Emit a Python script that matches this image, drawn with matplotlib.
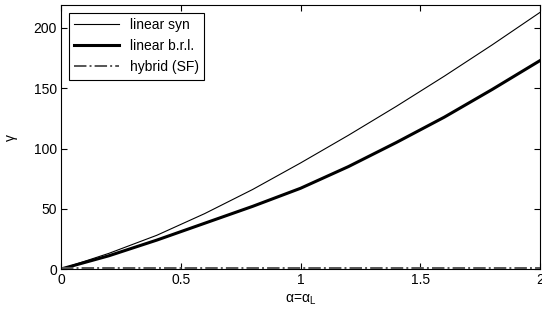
import matplotlib.pyplot as plt

plt.rcParams['font.family'] = ['Liberation Sans', 'DejaVu Sans']

# Data.
alpha = [0, 0.2, 0.4, 0.6, 0.8, 1.0, 1.2, 1.4, 1.6, 1.8, 2.0]
linear_syn = [0, 13, 28, 46, 66, 88, 111, 135, 160, 186, 213]
linear_brl = [0, 11, 24, 38, 52, 67, 85, 105, 126, 149, 173]
hybrid_sf = [0.8, 0.8, 0.8, 0.8, 0.8, 0.8, 0.8, 0.8, 0.8, 0.8, 0.8]

fig = plt.figure(figsize=(5.42, 3.18), dpi=100)
ax = fig.add_axes([0.1125, 0.154, 0.884, 0.830])

ax.plot(alpha, linear_syn, color='black', lw=0.8, label='linear syn')
ax.plot(alpha, linear_brl, color='black', lw=2.2, label='linear b.r.l.')
ax.plot(alpha, hybrid_sf, color='#555555', lw=1.4, ls='-.', label='hybrid (SF)')

ax.set_xlim(0, 2)
ax.set_ylim(0, 219)
ax.set_xticks([0, 0.5, 1, 1.5, 2])
ax.set_xticklabels(['0', '0.5', '1', '1.5', '2'])
ax.set_yticks([0, 50, 100, 150, 200])
ax.tick_params(direction='in', top=True, right=True, labelsize=10, length=4, pad=3)

ax.set_xlabel(r'$\mathregular{\alpha}$=$\mathregular{\alpha_L}$', fontsize=10, labelpad=4)
ax.set_ylabel(r'$\mathregular{\gamma}$', fontsize=10, labelpad=10)

leg = ax.legend(loc='upper left', fontsize=10, fancybox=False, framealpha=1,
                edgecolor='black', borderaxespad=0.55, handlelength=3.2,
                labelspacing=0.5)
leg.get_frame().set_linewidth(0.8)

fig.savefig('out.png', dpi=100)
